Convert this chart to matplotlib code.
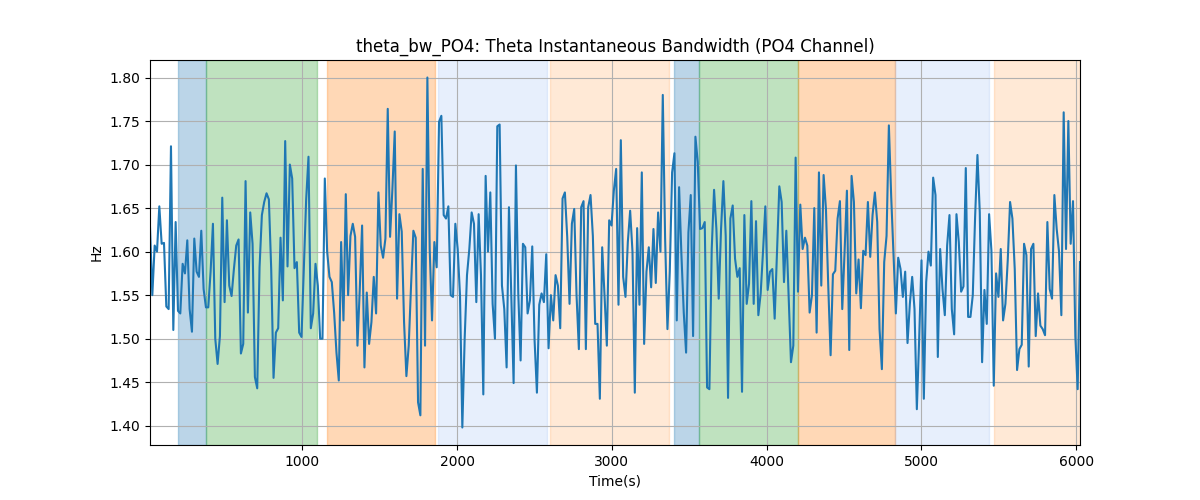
import numpy as np
import matplotlib
matplotlib.use("Agg")
import matplotlib.pyplot as plt

# Valores (Hz), muestreo regular ~15 s
bw_po4 = [
    1.628, 1.55, 1.607, 1.60, 1.652, 1.609, 1.61, 1.537, 1.534, 1.721, 1.51, 1.634, 1.532, 1.529, 1.586,
    1.575, 1.613, 1.534, 1.508, 1.615, 1.577, 1.571, 1.624, 1.557, 1.536, 1.536, 1.577, 1.632, 1.50, 1.471,
    1.503, 1.662, 1.542, 1.636, 1.561, 1.549, 1.58, 1.607, 1.614, 1.483, 1.494, 1.681, 1.53, 1.645, 1.609,
    1.456, 1.443, 1.582, 1.642, 1.657, 1.667, 1.66, 1.58, 1.455, 1.507, 1.512, 1.616, 1.544, 1.727, 1.583,
    1.70, 1.684, 1.581,
    1.588, 1.507, 1.502, 1.58, 1.66, 1.709, 1.512, 1.529, 1.586, 1.561, 1.50, 1.50, 1.684, 1.60, 1.571,
    1.565, 1.53, 1.484, 1.452, 1.611, 1.521, 1.666, 1.55, 1.618, 1.632, 1.617, 1.492, 1.557, 1.63, 1.467,
    1.553, 1.494, 1.519, 1.571, 1.529, 1.668, 1.607, 1.593, 1.615, 1.764, 1.617, 1.672, 1.738, 1.546, 1.643,
    1.623, 1.519, 1.457, 1.492, 1.561, 1.624, 1.616, 1.427, 1.412, 1.695, 1.492, 1.80, 1.603, 1.521, 1.611,
    1.582, 1.749, 1.756, 1.642, 1.638,
    1.652, 1.55, 1.548, 1.632, 1.603, 1.55, 1.398, 1.50, 1.573, 1.603, 1.645, 1.632, 1.542, 1.643, 1.573,
    1.436, 1.687, 1.60, 1.668, 1.54, 1.50, 1.744, 1.746, 1.561, 1.534, 1.467, 1.651, 1.552, 1.449, 1.699,
    1.552, 1.475, 1.609, 1.605, 1.529, 1.544, 1.606, 1.498, 1.438, 1.539, 1.552, 1.542, 1.597, 1.489, 1.55,
    1.521, 1.573, 1.561, 1.512, 1.661, 1.668, 1.617, 1.54, 1.632, 1.649, 1.55, 1.488, 1.651, 1.658, 1.488,
    1.651, 1.665, 1.618, 1.517, 1.517,
    1.431, 1.605, 1.55, 1.492, 1.636, 1.63, 1.67, 1.695, 1.539, 1.728, 1.571, 1.548, 1.611, 1.647, 1.60,
    1.438, 1.627, 1.539, 1.691, 1.494, 1.577, 1.605, 1.559, 1.626, 1.564, 1.645, 1.60, 1.78, 1.615, 1.511,
    1.577, 1.691, 1.713, 1.521, 1.674, 1.596, 1.53, 1.484, 1.622, 1.665, 1.503, 1.732, 1.703, 1.626, 1.627,
    1.634, 1.444, 1.442, 1.603, 1.671, 1.626, 1.546, 1.626, 1.681, 1.618, 1.432, 1.638, 1.653, 1.592, 1.571,
    1.581, 1.439, 1.642, 1.54, 1.563,
    1.658, 1.54, 1.635, 1.527, 1.552, 1.60, 1.652, 1.556, 1.577, 1.58, 1.523, 1.60, 1.675, 1.657, 1.565,
    1.624, 1.55, 1.473, 1.492, 1.708, 1.554, 1.654, 1.603, 1.616, 1.607, 1.53, 1.55, 1.65, 1.507, 1.691,
    1.561, 1.688, 1.649, 1.56, 1.481, 1.574, 1.578, 1.638, 1.658, 1.534, 1.60, 1.67, 1.487, 1.687, 1.657,
    1.552, 1.591, 1.535, 1.601, 1.596, 1.657, 1.594, 1.642, 1.668, 1.634, 1.511, 1.465, 1.588, 1.618, 1.745,
    1.663, 1.596, 1.529, 1.593,
    1.58, 1.548, 1.577, 1.495, 1.54, 1.571, 1.534, 1.419, 1.50, 1.59, 1.431, 1.565, 1.60, 1.584, 1.685,
    1.665, 1.479, 1.603, 1.557, 1.527, 1.607, 1.642, 1.534, 1.505, 1.643, 1.611, 1.554, 1.56, 1.696, 1.525,
    1.525, 1.55, 1.64, 1.711, 1.645, 1.473, 1.556, 1.517, 1.643, 1.601, 1.446, 1.575, 1.548, 1.603, 1.521,
    1.54, 1.59, 1.657, 1.638, 1.58, 1.464, 1.488, 1.493, 1.609, 1.596, 1.468, 1.603, 1.609, 1.503, 1.552,
    1.515, 1.511, 1.504, 1.634, 1.557, 1.546, 1.665, 1.626, 1.60, 1.527, 1.76, 1.603, 1.75, 1.609, 1.658,
    1.503, 1.442, 1.588,
]

t_inicio = 16
t_fin = 6025

# Segmentos sombreados: (inicio, fin, color, alpha)
seg_inicio = [197, 376, 1160, 1874, 2601, 3402, 3562, 4203, 4830, 5470]
seg_fin = [376, 1092, 1856, 2581, 3370, 3562, 4203, 4830, 5437, 6025]
seg_color = ["C0", "C2", "C1", "cornflowerblue", "C1", "C0", "C2", "C1", "cornflowerblue", "C1"]
seg_alpha = [0.3, 0.3, 0.3, 0.15, 0.17, 0.3, 0.3, 0.3, 0.15, 0.17]

t = np.linspace(t_inicio, t_fin, len(bw_po4))

fig, ax = plt.subplots(figsize=(12, 5), dpi=100)
for a, b, c, al in zip(seg_inicio, seg_fin, seg_color, seg_alpha):
    ax.axvspan(a, b, color=c, alpha=al)
ax.plot(t, bw_po4, color="C0")
ax.set_xlim(t_inicio, t_fin)
ax.set_title("theta_bw_PO4: Theta Instantaneous Bandwidth (PO4 Channel)")
ax.set_xlabel("Time(s)")
ax.set_ylabel("Hz")
ax.grid(True)
fig.savefig("out.png")
